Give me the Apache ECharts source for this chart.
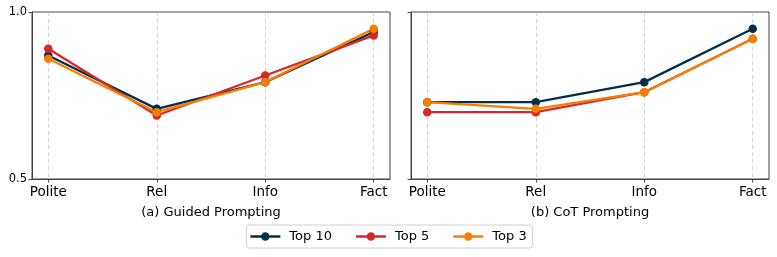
<!DOCTYPE html>
<html><head><meta charset="utf-8">
<script src="https://cdn.jsdelivr.net/npm/echarts@6/dist/echarts.min.js"></script>
<style>html,body{margin:0;padding:0;background:#fff}#c{width:777px;height:257px}</style>
</head><body><div id="c"></div>
<script>
const categories = ['Polite', 'Rel', 'Info', 'Fact'];
const seriesNames = ['Top 10', 'Top 5', 'Top 3'];
const colors = ['#003049', '#d62828', '#f77f00'];
const guidedTop10 = [0.87, 0.71, 0.79, 0.94];
const guidedTop5  = [0.89, 0.69, 0.81, 0.93];
const guidedTop3  = [0.86, 0.70, 0.79, 0.95];
const cotTop10 = [0.73, 0.73, 0.79, 0.95];
const cotTop5  = [0.70, 0.70, 0.76, 0.92];
const cotTop3  = [0.73, 0.71, 0.76, 0.92];
const yTicks = [0.5, 1.0];
const panelTitles = ['(a) Guided Prompting', '(b) CoT Prompting'];

const chart = echarts.init(document.getElementById('c'), null, {renderer: 'canvas'});
const font = 'DejaVu Sans';
const catIdx = categories.map((_, i) => i);

function xAxis(gi) {
  return {
    type: 'value', gridIndex: gi, min: -0.15, max: 3.15,
    axisLine: {show: true, onZero: false, lineStyle: {color: '#444', width: 1}},
    axisTick: {show: true, customValues: catIdx, length: 3.5, lineStyle: {color: '#444'}},
    axisLabel: {show: true, customValues: catIdx, formatter: v => categories[Math.round(v)] || '', color: '#000', fontFamily: font, fontSize: 13.5, margin: 6},
    splitLine: {show: true, lineStyle: {color: '#c8c8c8', type: [4, 3], width: 0.8}},
    name: panelTitles[gi], nameLocation: 'middle', nameGap: 27,
    nameTextStyle: {color: '#000', fontFamily: font, fontSize: 13}
  };
}
function yAxis(gi, showLabel) {
  return {
    type: 'value', gridIndex: gi, min: yTicks[0], max: yTicks[1], interval: yTicks[1] - yTicks[0],
    axisLine: {show: true, onZero: false, lineStyle: {color: '#444', width: 1}},
    axisTick: {show: true, length: 3.5, lineStyle: {color: '#444'}},
    axisLabel: {show: showLabel, formatter: v => v.toFixed(1), color: '#000', fontFamily: font, fontSize: 11.5, margin: 5},
    splitLine: {show: false}
  };
}
function mk(name, vals, gi, color) {
  return {
    name, type: 'line', xAxisIndex: gi, yAxisIndex: gi,
    data: vals.map((v, i) => [catIdx[i], v]),
    symbol: 'circle', symbolSize: 8.5,
    lineStyle: {width: 2.3, color}, itemStyle: {color},
    emphasis: {disabled: true}, animation: false
  };
}
const grid = [
  {left: 32, right: 387, top: 12, bottom: 78, show: true, borderColor: '#444', borderWidth: 1},
  {left: 411, right: 8, top: 12, bottom: 78, show: true, borderColor: '#444', borderWidth: 1}
];
const legendIcon = 'path://M0,3.8 L11,3.8 L11,6.2 L0,6.2 Z M19,3.8 L30,3.8 L30,6.2 L19,6.2 Z M10.75,5 A4.25,4.25 0 1,1 19.25,5 A4.25,4.25 0 1,1 10.75,5 Z';
chart.setOption({
  animation: false,
  color: colors,
  grid,
  xAxis: [xAxis(0), xAxis(1)],
  yAxis: [yAxis(0, true), yAxis(1, false)],
  legend: {
    data: seriesNames, bottom: 9, left: 'center',
    itemWidth: 30, itemHeight: 10, itemGap: 24,
    textStyle: {fontFamily: font, fontSize: 13, color: '#000', padding: [0, 0, 0, 4]},
    borderColor: '#d0d0d0', borderWidth: 1, borderRadius: 3, padding: [5, 6, 5, 4],
    icon: legendIcon
  },
  series: [
    mk(seriesNames[0], guidedTop10, 0, colors[0]),
    mk(seriesNames[1], guidedTop5, 0, colors[1]),
    mk(seriesNames[2], guidedTop3, 0, colors[2]),
    mk(seriesNames[0], cotTop10, 1, colors[0]),
    mk(seriesNames[1], cotTop5, 1, colors[1]),
    mk(seriesNames[2], cotTop3, 1, colors[2])
  ]
});
</script></body></html>
